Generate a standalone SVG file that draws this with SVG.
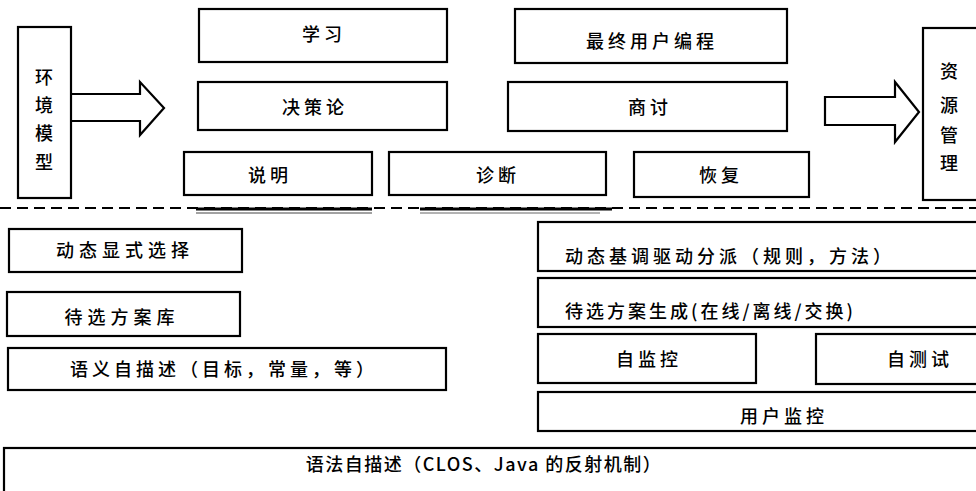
<svg xmlns="http://www.w3.org/2000/svg" width="976" height="491" viewBox="0 0 976 491">
<style>
.box{fill:#fff;stroke:#000;stroke-width:2.2}
.arr{fill:#fff;stroke:#000;stroke-width:2.2;stroke-linejoin:miter}
text{font-family:"Noto Sans CJK SC","Noto Sans",sans-serif;font-size:18px;fill:#000;font-weight:500}
.c{text-anchor:middle}
.sp{letter-spacing:4px}
</style>
<rect width="976" height="491" fill="#fff"/>
<g id="connectors">
<polyline class="arr" points="71,94 140,94 140,82 164,108 140,135 140,121 71,121"/>
<polygon class="arr" points="825,97 895,97 895,82 919,112 895,142 895,125 825,125"/>
<line x1="0" y1="208" x2="976" y2="208" stroke="#000" stroke-width="2" stroke-dasharray="11,6"/>
<line x1="196" y1="209" x2="372" y2="209" stroke="#000" stroke-width="3"/>
<line x1="196" y1="213" x2="372" y2="213" stroke="#444" stroke-width="1"/>
<line x1="420" y1="209" x2="612" y2="209" stroke="#000" stroke-width="3"/>
<line x1="420" y1="213" x2="600" y2="213" stroke="#666" stroke-width="1"/>
</g>
<g id="env"><rect class="box" x="18" y="27" width="53" height="171"/>
<text class="c" x="44" y="84">环</text><text class="c" x="44" y="112">境</text><text class="c" x="44" y="140">模</text><text class="c" x="44" y="169">型</text></g>
<g id="res"><rect class="box" x="923" y="28" width="60" height="172"/>
<text class="c" x="949" y="78">资</text><text class="c" x="949" y="112">源</text><text class="c" x="949" y="142">管</text><text class="c" x="949" y="170">理</text></g>
<g id="xuexi"><rect class="box" x="199" y="9" width="248" height="53"/><text class="c sp" x="324" y="41">学习</text></g>
<g id="zuizhong"><rect class="box" x="515" y="9" width="272" height="54"/><text class="c sp" x="652" y="48">最终用户编程</text></g>
<g id="juece"><rect class="box" x="198" y="82" width="249" height="48"/><text class="c sp" x="315" y="114">决策论</text></g>
<g id="shangtao"><rect class="box" x="508" y="82" width="279" height="49"/><text class="c sp" x="650" y="114">商讨</text></g>
<g id="shuoming"><rect class="box" x="184" y="152" width="188" height="43"/><text class="c sp" x="270" y="182">说明</text></g>
<g id="zhenduan"><rect class="box" x="389" y="152" width="217" height="43"/><text class="c sp" x="498" y="182">诊断</text></g>
<g id="huifu"><rect class="box" x="634" y="152" width="175" height="45"/><text class="c sp" x="721" y="182">恢复</text></g>
<g id="dongtaixianshi"><rect class="box" x="9" y="229" width="233" height="43"/><text class="c" x="125" y="257" style="letter-spacing:5px">动态显式选择</text></g>
<g id="daixuanku"><rect class="box" x="7" y="292" width="233" height="44"/><text class="c" x="122" y="324" style="letter-spacing:5px">待选方案库</text></g>
<g id="yuyi"><rect class="box" x="8" y="348" width="438" height="42"/><text class="c sp" x="224" y="376">语义自描述（目标，常量，等）</text></g>
<g id="dongtaijidiao"><rect class="box" x="538" y="222" width="450" height="49"/><text x="565" y="263" style="letter-spacing:4px">动态基调驱动分派（规则，方法）</text></g>
<g id="daixuanshengcheng"><rect class="box" x="538" y="278" width="450" height="49"/><text x="565" y="318" style="letter-spacing:3px">待选方案生成(在线/离线/交换)</text></g>
<g id="zijiankong"><rect class="box" x="538" y="334" width="218" height="49"/><text class="c sp" x="649" y="366">自监控</text></g>
<g id="ziceshi"><rect class="box" x="816" y="334" width="170" height="50"/><text class="c sp" x="920" y="366">自测试</text></g>
<g id="yonghujiankong"><rect class="box" x="538" y="392" width="450" height="39"/><text class="c sp" x="784" y="423">用户监控</text></g>
<g id="yufa"><rect class="box" x="4" y="448" width="990" height="60"/><text class="c" x="484" y="471" style="letter-spacing:1.5px">语法自描述（CLOS、Java 的反射机制）</text></g>
</svg>
